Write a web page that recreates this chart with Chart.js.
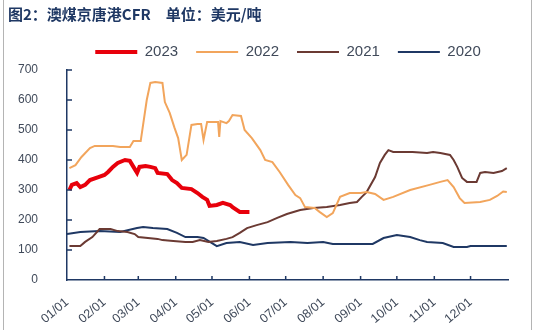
<!DOCTYPE html>
<html><head><meta charset="utf-8">
<script src="https://cdn.jsdelivr.net/npm/chart.js@4.4.1/dist/chart.umd.min.js"></script>
<style>
html,body{margin:0;padding:0;background:#fff;}
#wrap{position:relative;width:538px;height:330px;overflow:hidden;background:#fff;}
canvas{position:absolute;left:0;top:0;}
.frame{position:absolute;top:0;bottom:0;width:1px;background:#b4b4b4;}
</style></head><body>
<div id="wrap"><canvas id="c" width="538" height="330"></canvas>
<div class="frame" style="left:3px"></div><div class="frame" style="left:531px"></div></div>
<script>
const titleText = '图2：澳煤京唐港CFR\u3000单位：美元/吨';
const seriesNames = ['2023', '2022', '2021', '2020'];
const monthTickDays = [0, 31, 59, 90, 120, 151, 181, 212, 243, 273, 304, 334];
const monthTickLabels = ['01/01','02/01','03/01','04/01','05/01','06/01','07/01','08/01','09/01','10/01','11/01','12/01'];

const days2023 = [2,4,8,11,15,19,26,31,34,38,42,48,52,55,58,60,65,69,73,75,83,87,91,95,103,108,112,116,118,124,129,135,137,143,151];
const vals2023 = [300,317,323,310,317,333,343,350,360,377,390,400,397,377,357,377,380,377,373,357,353,333,323,307,303,290,277,267,247,250,257,250,243,227,227];

const days2022 = [2,7,12,19,23,38,44,52,55,61,66,69,73,79,81,85,89,92,95,99,103,108,111,113,116,125,126,127,132,134,137,144,147,153,160,164,170,176,183,189,193,197,205,209,215,220,223,226,234,243,248,255,262,270,284,300,309,315,320,325,329,342,350,356,361,364];
const vals2022 = [373,383,410,440,447,447,443,443,463,463,600,657,660,657,593,557,507,473,400,417,517,520,520,467,527,527,477,530,523,530,550,547,500,473,433,400,393,360,317,283,273,243,240,227,210,223,250,277,290,290,293,287,267,277,300,317,327,333,310,273,257,260,267,280,295,293];

const days2021 = [2,11,15,21,27,36,42,50,56,59,75,79,88,98,104,110,117,124,132,137,143,149,157,166,174,182,193,204,215,226,234,240,244,248,255,259,263,266,270,286,298,303,309,317,320,323,327,331,339,342,346,353,360,364];
const vals2021 = [113,113,127,143,170,170,163,160,153,143,137,133,130,127,127,133,127,130,137,143,157,173,183,193,207,220,233,240,243,250,257,260,277,293,343,390,417,433,427,427,423,427,423,417,400,377,340,327,327,357,360,357,363,373];

const days2020 = [0,11,27,44,58,63,71,83,91,98,108,113,120,124,132,143,154,166,185,199,212,220,253,262,273,284,292,298,311,320,331,334,364];
const vals2020 = [153,160,163,160,173,177,173,170,157,143,143,140,123,113,123,127,117,123,127,123,127,120,120,140,150,143,133,127,123,110,110,113,113];

const colors = ['#E8000B', '#F2A55C', '#6B3A33', '#1F3864'];
const widths = [4, 2, 2, 2];
const dayArrays = [days2023, days2022, days2021, days2020];
const valArrays = [vals2023, vals2022, vals2021, vals2020];

const axisColor = '#1F3864';
const textColor = '#404A5A';

const datasets = seriesNames.map((name, i) => ({
  label: name,
  data: dayArrays[i].map((d, j) => ({x: d, y: valArrays[i][j]})),
  borderColor: colors[i],
  backgroundColor: colors[i],
  borderWidth: widths[i],
  pointRadius: 0,
  tension: 0,
  fill: false
}));

const inwardTicks = {
  id: 'inwardTicks',
  afterDraw(chart) {
    const {ctx, chartArea: {left, bottom}, scales: {x, y}} = chart;
    ctx.save();
    ctx.strokeStyle = axisColor;
    ctx.lineWidth = 1.5;
    ctx.beginPath();
    y.ticks.forEach(t => {
      if (t.value === 0) return;
      const py = y.getPixelForValue(t.value);
      ctx.moveTo(left, py); ctx.lineTo(left + 5, py);
    });
    x.ticks.forEach(t => {
      if (t.value === 0) return;
      const px = x.getPixelForValue(t.value);
      ctx.moveTo(px, bottom); ctx.lineTo(px, bottom - 4);
    });
    ctx.stroke();
    ctx.restore();
  }
};

const legendPlace = {
  id: 'legendPlace',
  beforeLayout(chart) {
    const lg = chart.legend;
    if (lg && !lg._fixedFit) {
      const f = lg.fit;
      lg.fit = function () { f.call(this); this.height = 43.5; };
      lg._fixedFit = true;
    }
  },
  afterLayout(chart) {
    const lg = chart.legend;
    lg.left += 30; lg.right += 30;
  }
};

new Chart(document.getElementById('c'), {
  type: 'line',
  data: {datasets},
  plugins: [legendPlace, inwardTicks],
  options: {
    responsive: false,
    animation: false,
    devicePixelRatio: 1,
    layout: {padding: {left: 8, right: 30, top: 0, bottom: 0}},
    plugins: {
      title: {
        display: true, text: titleText, align: 'start', color: '#1F3864',
        font: {family: '"Noto Sans CJK SC", sans-serif', size: 15, weight: 'bold', lineHeight: 1.2},
        padding: {top: 5, bottom: 3.5}
      },
      legend: {
        display: true, position: 'top', align: 'center',
        labels: {
          usePointStyle: true, pointStyle: 'line', pointStyleWidth: 42,
          padding: 18, color: textColor,
          font: {family: '"Liberation Sans", Arial, sans-serif', size: 15}
        }
      },
      tooltip: {enabled: false}
    },
    scales: {
      x: {
        type: 'linear', min: 0, max: 365,
        afterBuildTicks: (s) => { s.ticks = monthTickDays.map(v => ({value: v})); },
        afterFit: (s) => { s.height = 50; },
        grid: {drawOnChartArea: false, drawTicks: false},
        border: {display: true, color: axisColor, width: 1.5},
        ticks: {
          autoSkip: false, minRotation: 40, maxRotation: 40, padding: 15,
          color: textColor, font: {family: '"Liberation Sans", Arial, sans-serif', size: 12.5},
          callback: (v, i) => monthTickLabels[i]
        }
      },
      y: {
        min: 0, max: 700,
        afterFit: (s) => { s.width = 59; },
        grid: {drawOnChartArea: false, drawTicks: false},
        border: {display: true, color: axisColor, width: 1.5},
        ticks: {
          stepSize: 100, padding: 29,
          color: textColor, font: {family: '"Liberation Sans", Arial, sans-serif', size: 12}
        }
      }
    }
  }
});
</script>
</body></html>
